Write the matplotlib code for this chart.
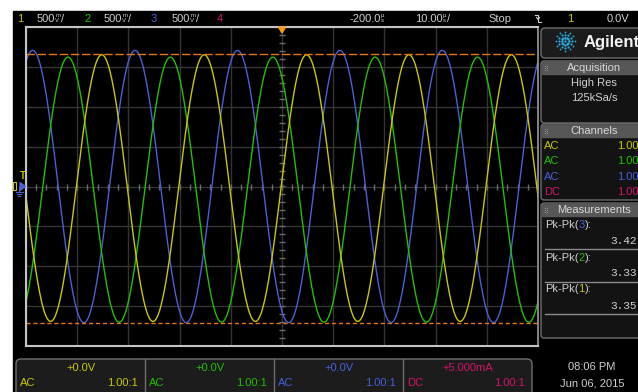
import numpy as np
import matplotlib
matplotlib.use("Agg")
import matplotlib.pyplot as plt
from matplotlib.patches import Rectangle, FancyBboxPatch, Polygon

# scope capture: 10 us/div, 500 mV/div, three 50 kHz phases
chan_names = ["1", "2", "3", "4"]
chan_colors = ["#c8c800", "#22c000", "#4a5fd8", "#d0146c"]
pk_pk = [3.35, 3.33, 3.42]          # V, ch1..ch3
dc_offset = [-0.02, -0.04, 0.0]     # V
peak_time = [14.8, 8.2, 1.3]        # us, first crest on screen
period = 20.0                       # us
cursor_levels = [1.67, -1.71]       # V

coupling = ["AC", "AC", "AC", "DC"]
probe = ["1.00", "1.00", "1.00", "1.00"]
offset_text = ["+0.0V", "+0.0V", "+0.0V", "+5.000mA"]
meas_order = [3, 2, 1]

GRAY = "#cfcfcf"
FONT = "Liberation Sans"

fig = plt.figure(figsize=(6.38, 3.92), dpi=100, facecolor="white")
W, H = 638, 392

bg = fig.add_axes([0, 0, 1, 1], zorder=0)
bg.set_xlim(0, W)
bg.set_ylim(H, 0)
bg.axis("off")
bg.add_patch(Rectangle((13, 11), W, H, color="black"))

# waveform area
L, R, T, B = 26, 538, 27.3, 345.7
ax = fig.add_axes([L / W, (H - B) / H, (R - L) / W, (B - T) / H], zorder=1)
ax.set_facecolor("black")
ax.set_xlim(0, 100)
ax.set_ylim(-2, 2)
ax.set_xticks(np.arange(0, 101, 10))
ax.set_yticks(np.arange(-2, 2.01, 0.5))
ax.grid(True, color="#343434", lw=1)
ax.tick_params(length=0, labelbottom=False, labelleft=False)
for s in ["top", "left", "bottom"]:
    ax.spines[s].set_color("#c4c4c4")
    ax.spines[s].set_linewidth(1.5)
ax.spines["right"].set_color("#9a9a9a")
ax.spines["right"].set_linewidth(1.2)

# small division ticks on the centre lines
ax.plot(np.arange(0, 100.1, 2), np.zeros(51), ls="none", marker="|",
        ms=4, color="#6a6a6a", mew=1)
ax.plot(np.full(41, 50), np.arange(-2, 2.01, 0.1), ls="none", marker="_",
        ms=4, color="#6a6a6a", mew=1)

t = np.linspace(0, 100, 2001)
for i in [2, 1, 0]:
    v = pk_pk[i] / 2 * np.cos(2 * np.pi * (t - peak_time[i]) / period) + dc_offset[i]
    ax.plot(t, v, color=chan_colors[i], lw=1.0)

ax.axhline(cursor_levels[0], color="#e07818", lw=1, ls=(0, (6, 2)))
ax.axhline(cursor_levels[1], color="#e07818", lw=1, ls=(0, (3, 2)))

# overlay for labels and panels, 1 unit = 1 pixel
ov = fig.add_axes([0, 0, 1, 1], zorder=2)
ov.set_xlim(0, W)
ov.set_ylim(H, 0)
ov.axis("off")
ov.patch.set_alpha(0)
renderer = fig.canvas.get_renderer()


def txt(x, y, s, c=GRAY, size=8, ha="left", **kw):
    kw.setdefault("family", FONT)
    return ov.text(x, y, s, color=c, fontsize=size, ha=ha, va="center", **kw)


def chain(x, y, parts, size=8, **kw):
    # parts: list of (text, colour) or (top, bottom, 'unit') stacked glyphs
    for p in parts:
        if len(p) == 3:
            a = txt(x, y - 2.6, p[0], size=4.3)
            b = txt(x, y + 2.4, p[1], size=4.3)
            w = max(a.get_window_extent(renderer).width,
                    b.get_window_extent(renderer).width)
            x += w + 0.8
        else:
            tt = txt(x, y, p[0], c=p[1], size=size, **kw)
            x += tt.get_window_extent(renderer).width


# top status bar
ty = 18.5
for i, x in enumerate([17, 84, 151, 217]):
    txt(x, ty, chan_names[i], c=chan_colors[i], size=8)
for x in [37, 104, 172]:
    chain(x, ty, [("500", GRAY), ("m", "V", "u"), ("/", GRAY)])
chain(349, ty, [("-200.0", GRAY), ("µ", "s", "u")])
chain(415, ty, [("10.00", GRAY), ("µ", "s", "u"), ("/", GRAY)])
txt(488, ty, "Stop", size=8)
ov.plot([535, 538, 538, 541], [15, 15, 22, 22], color=GRAY, lw=0.8)
ov.plot([536.5, 538, 539.5], [17.5, 19.5, 17.5], color=GRAY, lw=0.8)
txt(567, ty, "1", c=chan_colors[0], size=8)
txt(607, ty, "0.0V", size=8)

# trigger position marker and ground markers
ov.add_patch(Polygon([[278.5, 27], [285.5, 27], [282, 33]], color="#ff9a20"))
txt(20, 176, "T", c=chan_colors[0], size=7, weight="bold")
ov.add_patch(Rectangle((13, 182), 3, 8, facecolor="none", edgecolor=chan_colors[0], lw=0.8))
ov.add_patch(Polygon([[20, 182.5], [25.5, 186.5], [20, 190.5]], color=chan_colors[2]))
for y, w in [(191.5, 3.5), (193.5, 2.3), (195.5, 1.1)]:
    ov.plot([19 - w, 19 + w], [y, y], color=chan_colors[2], lw=0.8)
ov.plot([19, 19], [186.5, 191.5], color=chan_colors[2], lw=0.8)

# right side panel
PX = 541
ov.add_patch(FancyBboxPatch((PX, 28), 110, 30, boxstyle="round,pad=0,rounding_size=4",
                            facecolor="#1b1b1b", edgecolor="#6e6e6e", lw=1))
for ang in np.arange(0, 360, 30):
    a = np.deg2rad(ang)
    for r, s in [(3.5, 3.2), (6.5, 2.6), (9.5, 1.8)]:
        ov.scatter(565 + r * np.cos(a), 41 + r * np.sin(a), s=s, color="#2aa8dc", lw=0)
ov.scatter(565, 41, s=3, color="#2aa8dc", lw=0)
txt(584, 42, "Agilent", c="#f2f2f2", size=12, weight="bold")

sections = [(61, 123, "Acquisition"), (124, 200, "Channels"), (203, 338, "Measurements")]
for y0, y1, name in sections:
    ov.add_patch(FancyBboxPatch((PX, y0), 110, y1 - y0, boxstyle="round,pad=0,rounding_size=3",
                                facecolor="#131313", edgecolor="#6e6e6e", lw=1))
    ov.add_patch(Rectangle((PX + 0.5, y0 + 0.5), 110, 12.5, color="#575757"))
    txt(594.5, y0 + 7, name, c="#d8d8d8", size=8, ha="center")
    for dx in [0, 2]:
        for dy in [-2, 0, 2]:
            ov.scatter(545 + dx, y0 + 7 + dy, s=0.6, color="#a0a0a0", lw=0)

txt(594, 83, "High Res", ha="center")
txt(594, 98, "125kSa/s", ha="center")

for i, y in enumerate([146, 161, 177, 192]):
    txt(544, y, coupling[i], c=chan_colors[i])
    txt(617, y, probe[i], c=chan_colors[i])

for j, (ly, vy, sy) in enumerate([(225, 241, 249), (258, 273, 282), (289, 306, 314)]):
    ch = meas_order[j]
    chain(545, ly, [("Pk-Pk(", GRAY), (str(ch), chan_colors[ch - 1]), ("):", GRAY)])
    txt(610, vy, f"{pk_pk[ch - 1]:.2f}", family="Liberation Mono")
    ov.plot([545, 640], [sy, sy], color="#8a8a8a", lw=1)

# bottom channel strip
ov.add_patch(FancyBboxPatch((16, 359), 516, 45, boxstyle="round,pad=0,rounding_size=5",
                            facecolor="#1c1c1c", edgecolor="#6e6e6e", lw=1))
for i in range(4):
    x0 = 16 + 129 * i
    x1 = x0 + 129
    if i > 0:
        ov.plot([x0, x0], [359, H], color="#6e6e6e", lw=1)
    txt((x0 + x1) / 2, 368, offset_text[i], c=chan_colors[i], ha="center")
    txt(x0 + 4, 383, coupling[i], c=chan_colors[i])
    txt(x1 - 7, 383, probe[i] + ":1", c=chan_colors[i], ha="right")

txt(592, 367, "08:06 PM", ha="center")
txt(592, 383, "Jun 06, 2015", ha="center")

fig.savefig("out.png", dpi=100, facecolor="white")
